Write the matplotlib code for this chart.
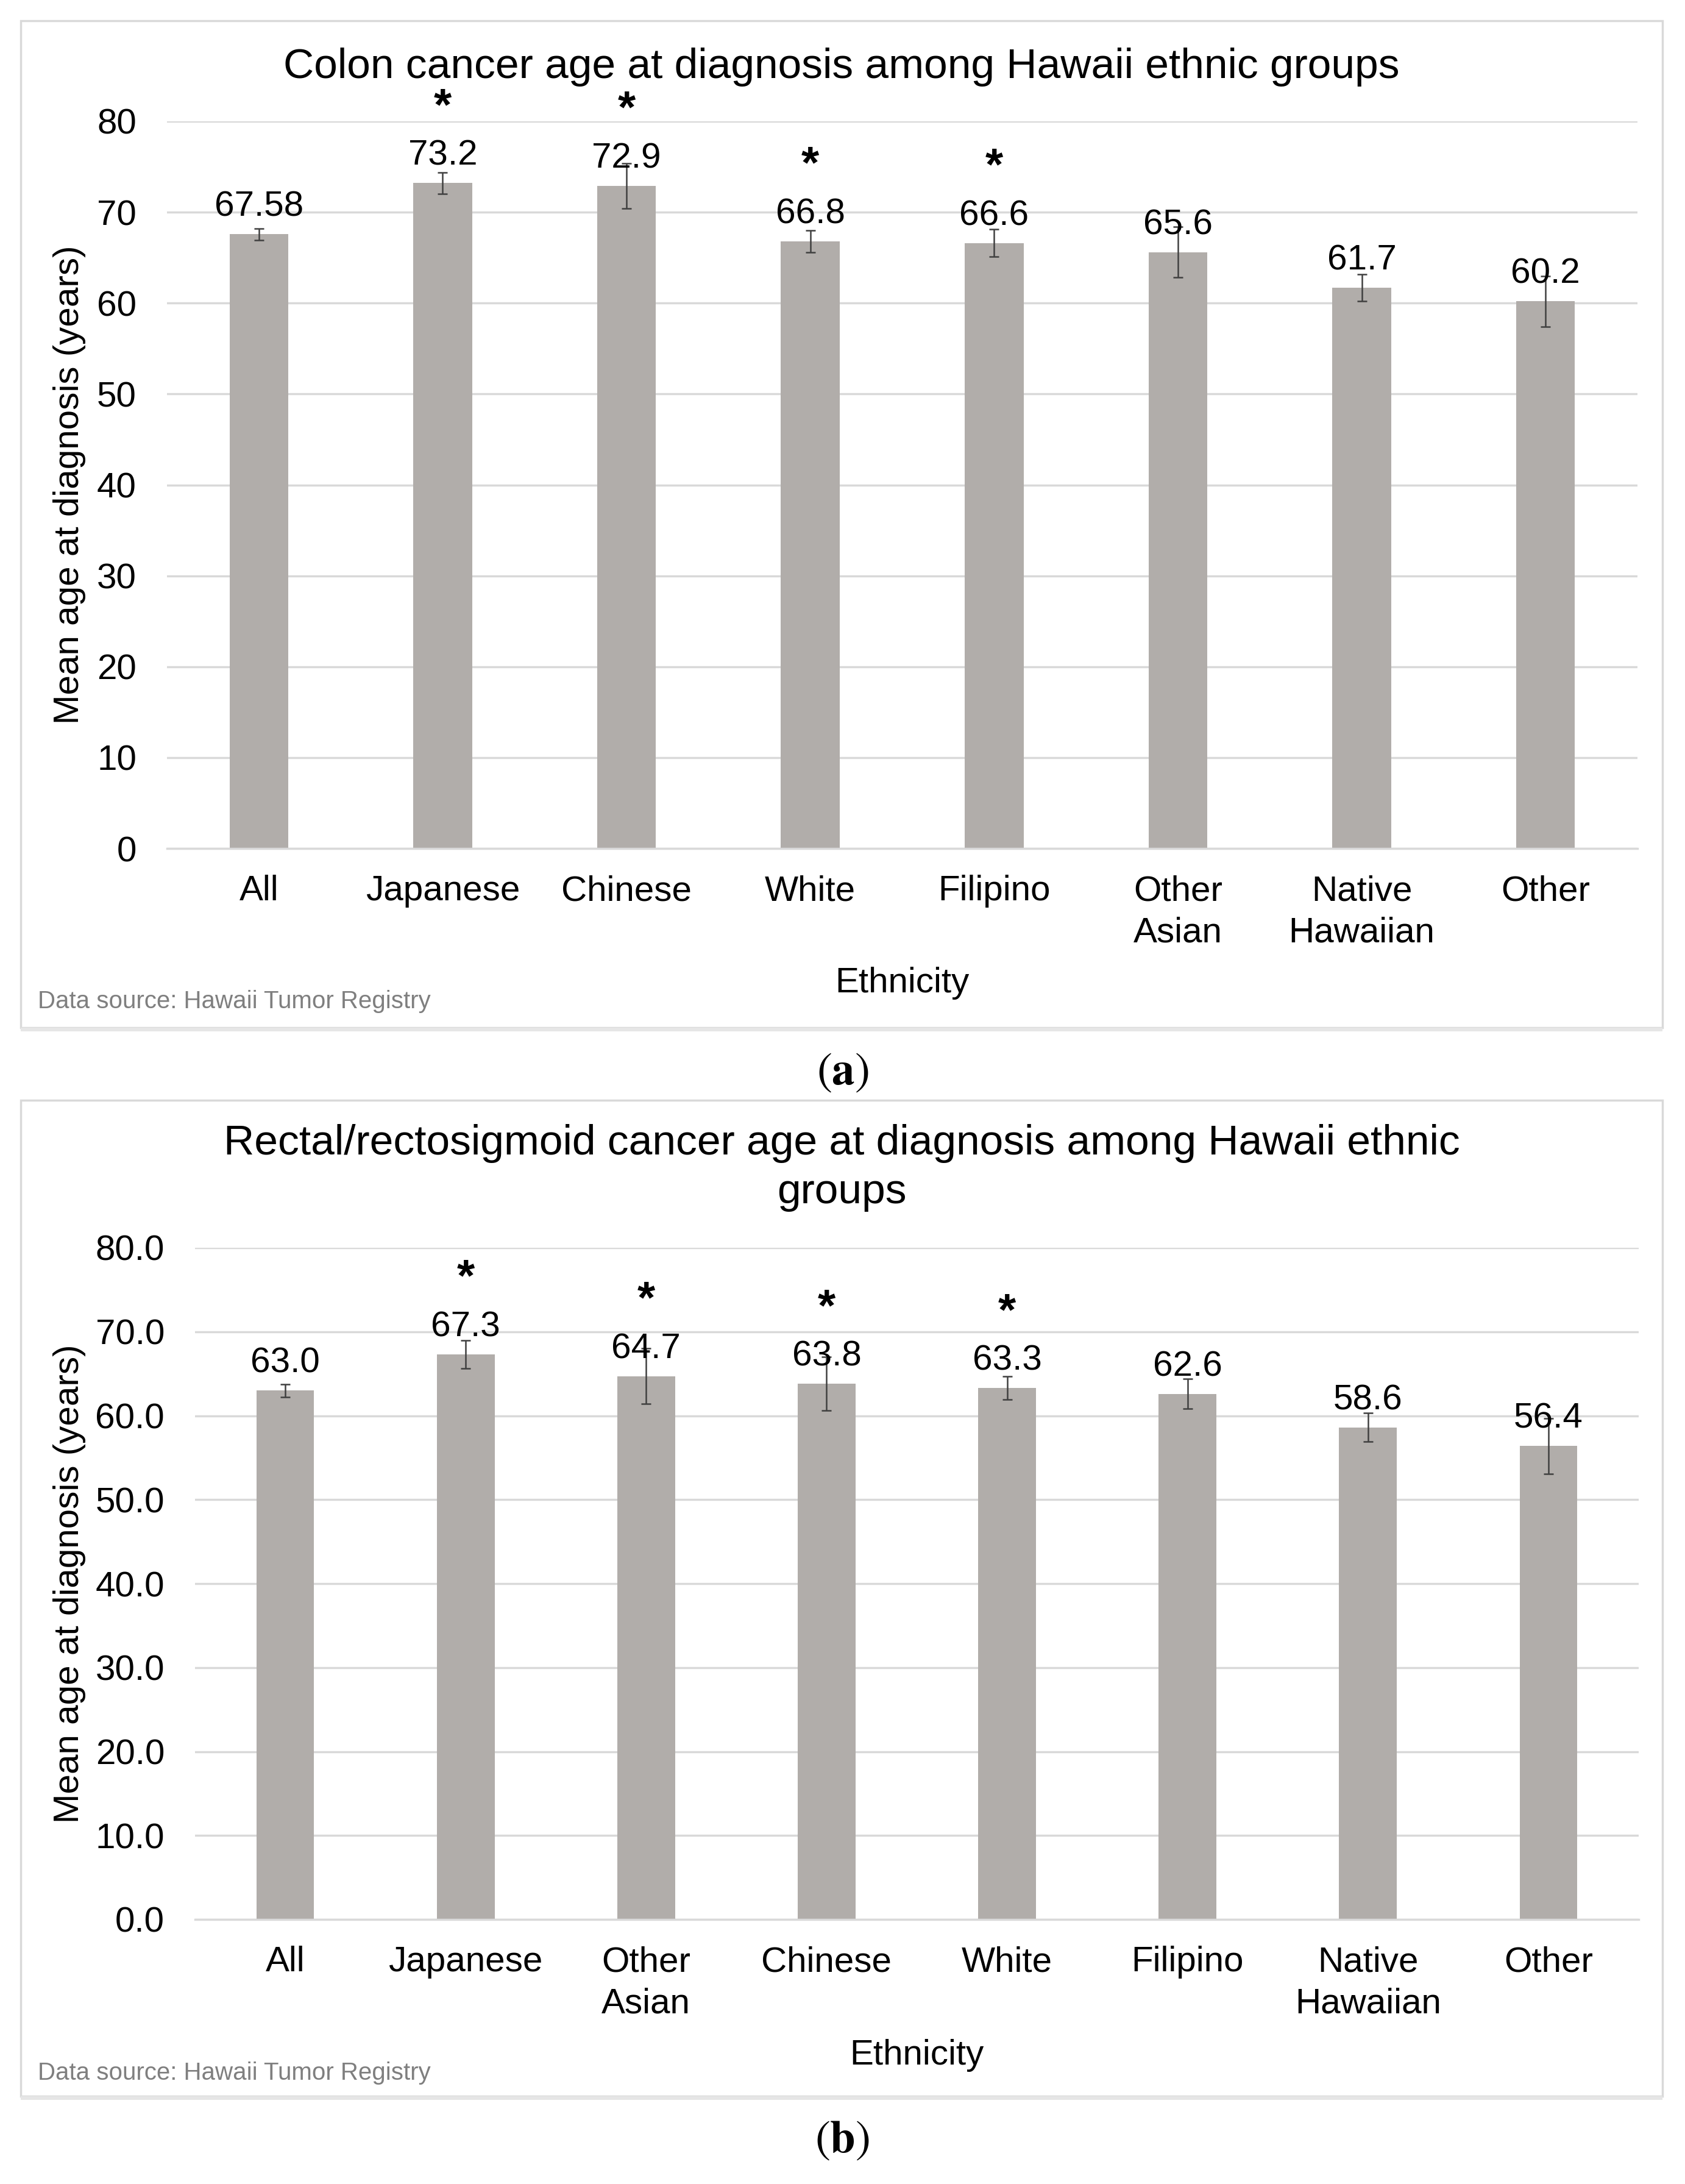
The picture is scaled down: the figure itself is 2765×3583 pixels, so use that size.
import matplotlib
matplotlib.use("Agg")
import matplotlib.pyplot as plt
from matplotlib.patches import Rectangle
import numpy as np

plt.rcParams['font.family'] = ['Liberation Sans', 'DejaVu Sans']
plt.rcParams['mathtext.fontset'] = 'stix'

# ---------------- data ----------------
a_title = "Colon cancer age at diagnosis among Hawaii ethnic groups"
a_cats = ['All', 'Japanese', 'Chinese', 'White', 'Filipino', 'Other\nAsian', 'Native\nHawaiian', 'Other']
a_means = [67.58, 73.2, 72.9, 66.8, 66.6, 65.6, 61.7, 60.2]
a_err = [0.65, 1.2, 2.5, 1.2, 1.5, 2.8, 1.5, 2.8]
a_sig = [False, True, True, True, True, False, False, False]
a_labels = ['67.58', '73.2', '72.9', '66.8', '66.6', '65.6', '61.7', '60.2']
a_yticks = [0, 10, 20, 30, 40, 50, 60, 70, 80]
a_yticklabels = ['0', '10', '20', '30', '40', '50', '60', '70', '80']

b_title = "Rectal/rectosigmoid cancer age at diagnosis among Hawaii ethnic\ngroups"
b_cats = ['All', 'Japanese', 'Other\nAsian', 'Chinese', 'White', 'Filipino', 'Native\nHawaiian', 'Other']
b_means = [63.0, 67.3, 64.7, 63.8, 63.3, 62.6, 58.6, 56.4]
b_err = [0.75, 1.65, 3.3, 3.2, 1.4, 1.8, 1.7, 3.3]
b_sig = [False, True, True, True, True, False, False, False]
b_labels = ['63.0', '67.3', '64.7', '63.8', '63.3', '62.6', '58.6', '56.4']
b_yticks = [0, 10, 20, 30, 40, 50, 60, 70, 80]
b_yticklabels = ['0.0', '10.0', '20.0', '30.0', '40.0', '50.0', '60.0', '70.0', '80.0']

ylabel = "Mean age at diagnosis (years)"
xlabel = "Ethnicity"
source = "Data source: Hawaii Tumor Registry"

# ---------------- figure ----------------
W, H = 2765, 3583
DPI = 100
fig = plt.figure(figsize=(W / DPI, H / DPI), dpi=DPI)
fig.patch.set_facecolor('white')

BAR = '#b1adaa'
GRID = '#d9d9d9'
ERR = '#404040'
FS = 42


def fx(px):
    return px / W


def fy(py):
    return 1 - py / H


def panel(box, ax_rect, title, title_y, cats, means, err, sig, labels,
          yticks, yticklabels, xlabel_y, source_y, ylabel_x):
    # panel box
    bx0, by0, bx1, by1 = box
    fig.patches.append(Rectangle((fx(bx0), fy(by1)), fx(bx1 - bx0), (by1 - by0) / H,
                                 transform=fig.transFigure, facecolor='none',
                                 edgecolor=GRID, lw=2.5, zorder=0))
    fig.patches.append(Rectangle((fx(bx0), fy(by1 + 6)), fx(bx1 - bx0), 6 / H,
                                 transform=fig.transFigure, facecolor='#e6e6e6',
                                 edgecolor='none', zorder=0))
    l, t, r, b = ax_rect
    ax = fig.add_axes([fx(l), fy(b), fx(r - l), (b - t) / H])
    ax.set_zorder(2)
    ax.set_facecolor('none')
    x = np.arange(len(cats))
    ax.bar(x, means, width=0.32, color=BAR, zorder=2)
    ax.errorbar(x, means, yerr=err, fmt='none', ecolor=ERR, elinewidth=1.8,
                capsize=6, capthick=1.8, zorder=3)
    for xi, m, lab, s in zip(x, means, labels, sig):
        ax.annotate(lab, (xi, m), xytext=(0, 32), textcoords='offset points',
                    ha='center', va='center', fontsize=FS, color='#000000',
                    zorder=4, annotation_clip=False)
        if s:
            ax.annotate('*', (xi, m), xytext=(0, 89), textcoords='offset points',
                        ha='center', va='center', fontsize=54, fontweight='bold',
                        color='#000000', zorder=4, annotation_clip=False)
    ax.set_xlim(-0.5, len(cats) - 0.5)
    ax.set_ylim(0, 80)
    ax.set_yticks(yticks)
    ax.set_yticklabels(yticklabels)
    ax.set_xticks(x)
    ax.set_xticklabels(cats, linespacing=1.35)
    ax.tick_params(axis='both', length=0, labelsize=FS, colors='#000000')
    ax.tick_params(axis='y', pad=36)
    ax.tick_params(axis='x', pad=31)
    ax.grid(axis='y', color=GRID, lw=2.5, zorder=0)
    ax.set_axisbelow(True)
    for sp in ['top', 'right', 'left']:
        ax.spines[sp].set_visible(False)
    ax.spines['bottom'].set_color(GRID)
    ax.spines['bottom'].set_linewidth(2.5)

    fig.text(0.5 * (fx(bx0) + fx(bx1)), fy(title_y), title, ha='center', va='center',
             fontsize=50, color='#000000', linespacing=1.3)
    fig.text(0.5 * (fx(l) + fx(r)), fy(xlabel_y), xlabel, ha='center', va='center',
             fontsize=FS, color='#000000')
    fig.text(fx(ylabel_x), 0.5 * (fy(t) + fy(b)), ylabel, rotation=90, ha='center',
             va='center', fontsize=FS, color='#000000')
    fig.text(fx(bx0 + 28), fy(source_y), source, ha='left', va='center',
             fontsize=29, color='#7f7f7f')
    return ax


panel(box=(34, 34, 2728, 1686), ax_rect=(274, 199, 2687, 1392), title=a_title,
      title_y=110, cats=a_cats, means=a_means, err=a_err, sig=a_sig, labels=a_labels,
      yticks=a_yticks, yticklabels=a_yticklabels, xlabel_y=1613, source_y=1643,
      ylabel_x=114)

panel(box=(34, 1805, 2728, 3439), ax_rect=(320, 2047, 2689, 3149), title=b_title,
      title_y=1916, cats=b_cats, means=b_means, err=b_err, sig=b_sig, labels=b_labels,
      yticks=b_yticks, yticklabels=b_yticklabels, xlabel_y=3372, source_y=3401,
      ylabel_x=114)

fig.text(0.5, fy(1760), r'$(\mathbf{a})$', ha='center', va='center', fontsize=54)
fig.text(0.5, fy(3512), r'$(\mathbf{b})$', ha='center', va='center', fontsize=54)

fig.savefig('out.png', dpi=DPI, facecolor='white')
